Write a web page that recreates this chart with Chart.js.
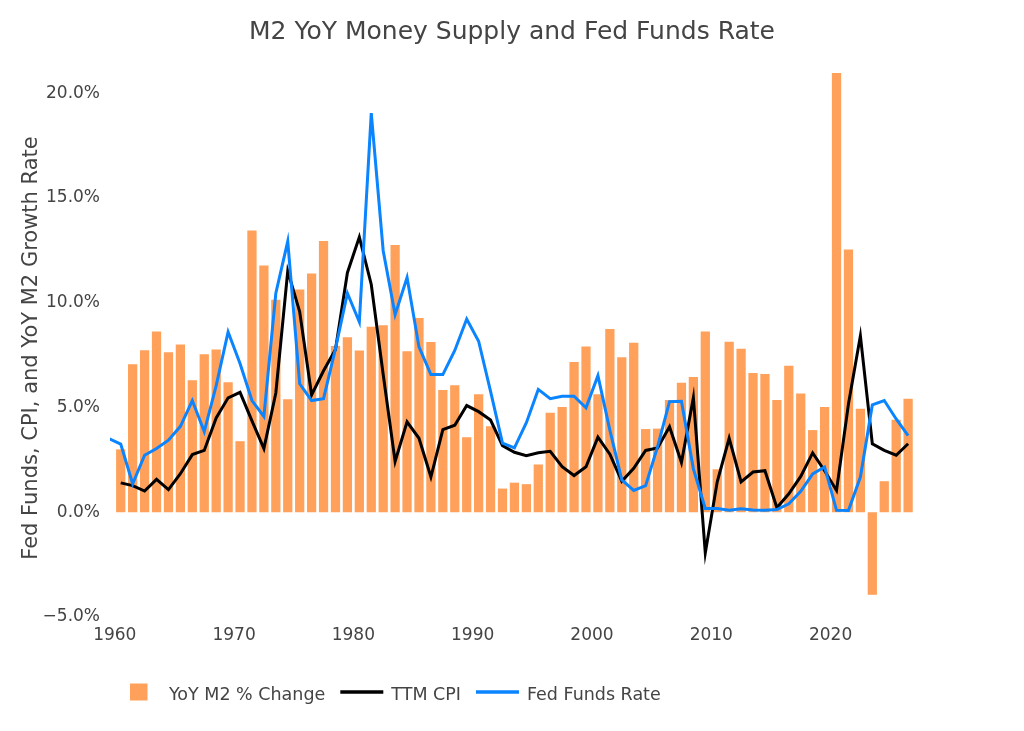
<!DOCTYPE html>
<html>
<head>
<meta charset="utf-8">
<script src="https://cdn.jsdelivr.net/npm/chart.js@4.4.1/dist/chart.umd.min.js"></script>
<style>
  html, body { margin: 0; padding: 0; background: #fff; }
  canvas { display: block; }
</style>
</head>
<body>
<canvas id="c" width="1024" height="731"></canvas>
<script>
const chartTitle = 'M2 YoY Money Supply and Fed Funds Rate';
const yAxisTitle = 'Fed Funds, CPI, and YoY M2 Growth Rate';
const seriesNames = ['YoY M2 % Change', 'TTM CPI', 'Fed Funds Rate'];
const xTickYears = [1960, 1970, 1980, 1990, 2000, 2010, 2020];

const years = [1960,1961,1962,1963,1964,1965,1966,1967,1968,1969,
  1970,1971,1972,1973,1974,1975,1976,1977,1978,1979,
  1980,1981,1982,1983,1984,1985,1986,1987,1988,1989,
  1990,1991,1992,1993,1994,1995,1996,1997,1998,1999,
  2000,2001,2002,2003,2004,2005,2006,2007,2008,2009,
  2010,2011,2012,2013,2014,2015,2016,2017,2018,2019,
  2020,2021,2022,2023,2024,2025,2026];

const m2Growth = [3.0,7.06,7.73,8.63,7.63,8.0,6.3,7.54,7.77,6.2,
  3.39,13.44,11.78,10.14,5.39,10.63,11.39,12.94,7.93,8.35,
  7.72,8.85,8.92,12.75,7.68,9.27,8.12,5.83,6.06,3.58,
  5.63,4.10,1.13,1.41,1.34,2.28,4.75,5.02,7.17,7.91,
  5.63,8.74,7.40,8.09,3.97,3.99,5.35,6.18,6.45,8.62,
  2.05,8.14,7.80,6.64,6.60,5.35,6.99,5.67,3.92,5.02,
  20.96,12.54,4.94,-3.94,1.48,4.41,5.42];

const cpi = [1.40,1.27,1.01,1.57,1.08,1.84,2.75,2.95,4.50,5.46,
  5.72,4.36,3.04,5.69,11.51,9.57,5.60,6.75,7.77,11.43,
  13.13,10.87,6.57,2.42,4.31,3.53,1.68,3.94,4.15,5.09,
  4.80,4.40,3.18,2.86,2.70,2.84,2.91,2.17,1.75,2.17,
  3.58,2.77,1.48,2.10,2.95,3.07,4.08,2.37,5.47,-1.94,
  1.45,3.53,1.45,1.92,1.98,0.21,0.88,1.71,2.83,1.98,
  1.04,5.16,8.42,3.27,2.95,2.72,3.27];

const ffYears = [1959,1960,1961,1962,1963,1964,1965,1966,1967,1968,1969,
  1970,1971,1972,1973,1974,1975,1976,1977,1978,1979,
  1980,1981,1982,1983,1984,1985,1986,1987,1988,1989,
  1990,1991,1992,1993,1994,1995,1996,1997,1998,1999,
  2000,2001,2002,2003,2004,2005,2006,2007,2008,2009,
  2010,2011,2012,2013,2014,2015,2016,2017,2018,2019,
  2020,2021,2022,2023,2024,2025,2026];

const fedFunds = [3.52,3.25,1.36,2.72,3.04,3.44,4.10,5.33,3.85,6.04,8.60,
  7.10,5.33,4.57,10.45,12.93,6.13,5.33,5.42,7.81,10.45,
  9.08,19.05,12.48,9.43,11.20,7.89,6.57,6.57,7.72,9.22,
  8.16,5.77,3.30,3.07,4.27,5.86,5.42,5.53,5.54,4.98,
  6.52,3.92,1.54,1.04,1.27,3.13,5.28,5.30,2.07,0.18,
  0.18,0.10,0.16,0.11,0.09,0.13,0.40,1.00,1.83,2.16,
  0.09,0.08,1.68,5.12,5.33,4.45,3.66];

const FONT = "'DejaVu Sans', Verdana, sans-serif";
const TEXT = '#444';
const COLORS = { m2: '#FFA15A', cpi: '#000000', ff: 'rgb(10,132,255)' };

// annual values are plotted at mid-year
const pts = (xs, ys) => xs.map((yr, i) => ({ x: yr + 0.5, y: ys[i] }));

const overlay = {
  id: 'overlay',
  afterDraw(chart) {
    const c = chart.ctx;
    c.save();
    c.fillStyle = TEXT;
    c.textAlign = 'center';
    c.textBaseline = 'alphabetic';
    c.font = `25px ${FONT}`;
    c.fillText(chartTitle, 512, 39);

    c.save();
    c.translate(37, 348);
    c.rotate(-Math.PI / 2);
    c.font = `21px ${FONT}`;
    c.fillText(yAxisTitle, 0, 0);
    c.restore();

    // legend
    c.font = `17.5px ${FONT}`;
    c.textAlign = 'left';
    const ly = 692;
    let x = 130;
    chart.data.datasets.forEach(ds => {
      let tx;
      if (ds.type === 'bar') {
        c.fillStyle = ds.backgroundColor;
        c.fillRect(x, ly - 8.5, 17.5, 17);
        tx = x + 39;
      } else {
        c.strokeStyle = ds.borderColor;
        c.lineWidth = 3.5;
        c.beginPath();
        c.moveTo(x, ly);
        c.lineTo(x + 43, ly);
        c.stroke();
        tx = x + 51;
      }
      c.fillStyle = TEXT;
      c.fillText(ds.label, tx, ly + 7.5);
      x = tx + c.measureText(ds.label).width + 15;
    });
    c.restore();
  }
};

new Chart(document.getElementById('c').getContext('2d'), {
  type: 'bar',
  data: {
    datasets: [
      {
        type: 'bar', label: seriesNames[0], data: pts(years, m2Growth),
        backgroundColor: COLORS.m2, borderWidth: 0,
        barPercentage: 0.97, categoryPercentage: 0.8, order: 3
      },
      {
        type: 'line', label: seriesNames[1], data: pts(years, cpi),
        borderColor: COLORS.cpi, borderWidth: 3, pointRadius: 0, tension: 0, fill: false, order: 2
      },
      {
        type: 'line', label: seriesNames[2], data: pts(ffYears, fedFunds),
        borderColor: COLORS.ff, borderWidth: 3, pointRadius: 0, tension: 0, fill: false, order: 1
      }
    ]
  },
  options: {
    responsive: false,
    animation: false,
    devicePixelRatio: 1,
    layout: { padding: { left: 0, right: 111, top: 68, bottom: 0 } },
    plugins: {
      legend: { display: false },
      title: { display: false },
      tooltip: { enabled: false }
    },
    scales: {
      x: {
        type: 'linear',
        offset: false,
        min: 1959.6,
        max: 2026.91,
        grid: { display: false, drawTicks: false, offset: false },
        border: { display: false },
        afterBuildTicks: s => { s.ticks = xTickYears.map(v => ({ value: v })); },
        ticks: {
          autoSkip: false, maxRotation: 0, padding: 8, color: TEXT,
          font: { family: FONT, size: 17 },
          callback: v => String(v)
        },
        afterFit: s => { s.height = 731 - 617; }
      },
      y: {
        type: 'linear',
        min: -5,
        max: 21.2,
        grid: { display: false, drawTicks: false },
        border: { display: false },
        ticks: {
          stepSize: 5, includeBounds: false, padding: 10, color: TEXT,
          font: { family: FONT, size: 17 },
          callback: v => (v < 0 ? '\u2212' : '') + Math.abs(v).toFixed(1) + '%'
        },
        afterFit: s => { s.width = 110; }
      }
    }
  },
  plugins: [overlay]
});
</script>
</body>
</html>
